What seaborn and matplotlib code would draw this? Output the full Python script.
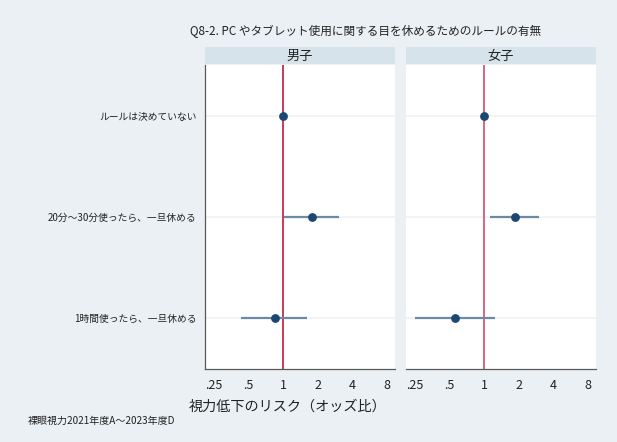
import numpy as np
import pandas as pd
import matplotlib
matplotlib.use("Agg")
import matplotlib.pyplot as plt
import seaborn as sns

sns.set_theme(style="white")
plt.rcParams["font.family"] = ["Noto Sans CJK JP", "DejaVu Sans"]

# data
categories = ["ルールは決めていない", "20分～30分使ったら、一旦休める", "1時間使ったら、一旦休める"]
panels = ["男子", "女子"]
or_boys = [1.0, 1.78, 0.84]
lo_boys = [np.nan, 1.02, 0.43]
hi_boys = [np.nan, 3.03, 1.61]
or_girls = [1.0, 1.84, 0.56]
lo_girls = [np.nan, 1.13, 0.25]
hi_girls = [np.nan, 3.00, 1.25]
xticks = [0.25, 0.5, 1, 2, 4, 8]
xticklabels = [".25", ".5", "1", "2", "4", "8"]

df = pd.DataFrame({
    "panel": np.repeat(panels, len(categories)),
    "cat": categories * 2,
    "pos": list(range(len(categories))) * 2,
    "or": or_boys + or_girls,
    "lo": lo_boys + lo_girls,
    "hi": hi_boys + hi_girls,
})

bg = "#eaf0f3"
strip_c = "#d6e3ea"
point_c = "#1b4870"
ci_c = "#6b8aa3"
ref_c = ["#c42a4c", "#d65a7a"]
grid_c = "#edf2f5"
spine_c = "#5a5a5a"

W, H = 617, 442
fig = plt.figure(figsize=(W / 100, H / 100), dpi=100, facecolor=bg)

lefts = [205, 406]
pw, top, bot = 190, 65, 369
for i, p in enumerate(panels):
    ax = fig.add_axes([lefts[i] / W, (H - bot) / H, pw / W, (bot - top) / H])
    ax.set_facecolor("white")
    sub = df[df["panel"] == p]
    for y in sub["pos"]:
        ax.axhline(y, color=grid_c, lw=1.2, zorder=0)
    ax.axvline(1, color=ref_c[i], lw=1.3, zorder=1)
    ci = sub.dropna()
    ax.hlines(ci["pos"], ci["lo"], ci["hi"], color=ci_c, lw=1.6, zorder=2)
    sns.scatterplot(data=sub, x="or", y="pos", ax=ax, color=point_c, s=40,
                    edgecolor=point_c, linewidth=0, zorder=3, legend=False)
    ax.set_xscale("log", base=2)
    ax.set_xlim(2 ** -2.26, 2 ** 3.23)
    ax.set_ylim(2.5, -0.5)
    ax.set_xticks(xticks)
    ax.set_xticklabels(xticklabels, fontsize=9, color="#222222")
    ax.minorticks_off()
    ax.tick_params(axis="x", direction="out", length=4, width=0.8, color=spine_c, pad=3)
    for s in ["top", "right", "left"]:
        ax.spines[s].set_visible(False)
    ax.spines["bottom"].set_color(spine_c)
    ax.spines["bottom"].set_linewidth(0.9)
    ax.set_xlabel("")
    ax.set_ylabel("")
    if i == 0:
        ax.spines["left"].set_visible(True)
        ax.spines["left"].set_color(spine_c)
        ax.spines["left"].set_linewidth(0.9)
        ax.set_yticks(range(len(categories)))
        ax.set_yticklabels(categories, fontsize=7, color="#222222")
        ax.tick_params(axis="y", direction="out", length=4, width=0.8, color=spine_c, pad=2)
    else:
        ax.set_yticks([])

    # facet strip
    sax = fig.add_axes([lefts[i] / W, (H - 64) / H, pw / W, 17 / H])
    sax.set_facecolor(strip_c)
    sax.set_xticks([])
    sax.set_yticks([])
    for s in sax.spines.values():
        s.set_visible(False)
    sax.text(0.5, 0.45, p, ha="center", va="center", fontsize=9.5, color="#222222",
             transform=sax.transAxes)

fig.text(366 / W, 1 - 31 / H, "Q8-2. PC やタブレット使用に関する目を休めるためのルールの有無",
         ha="center", va="center", fontsize=8.4, color="#222222")
fig.text(288 / W, 1 - 407 / H, "視力低下のリスク（オッズ比）",
         ha="center", va="center", fontsize=10.2, color="#222222")
fig.text(28 / W, 1 - 421 / H, "裸眼視力2021年度A～2023年度D",
         ha="left", va="center", fontsize=7.2, color="#222222")

fig.savefig("out.png", dpi=100, facecolor=bg)
